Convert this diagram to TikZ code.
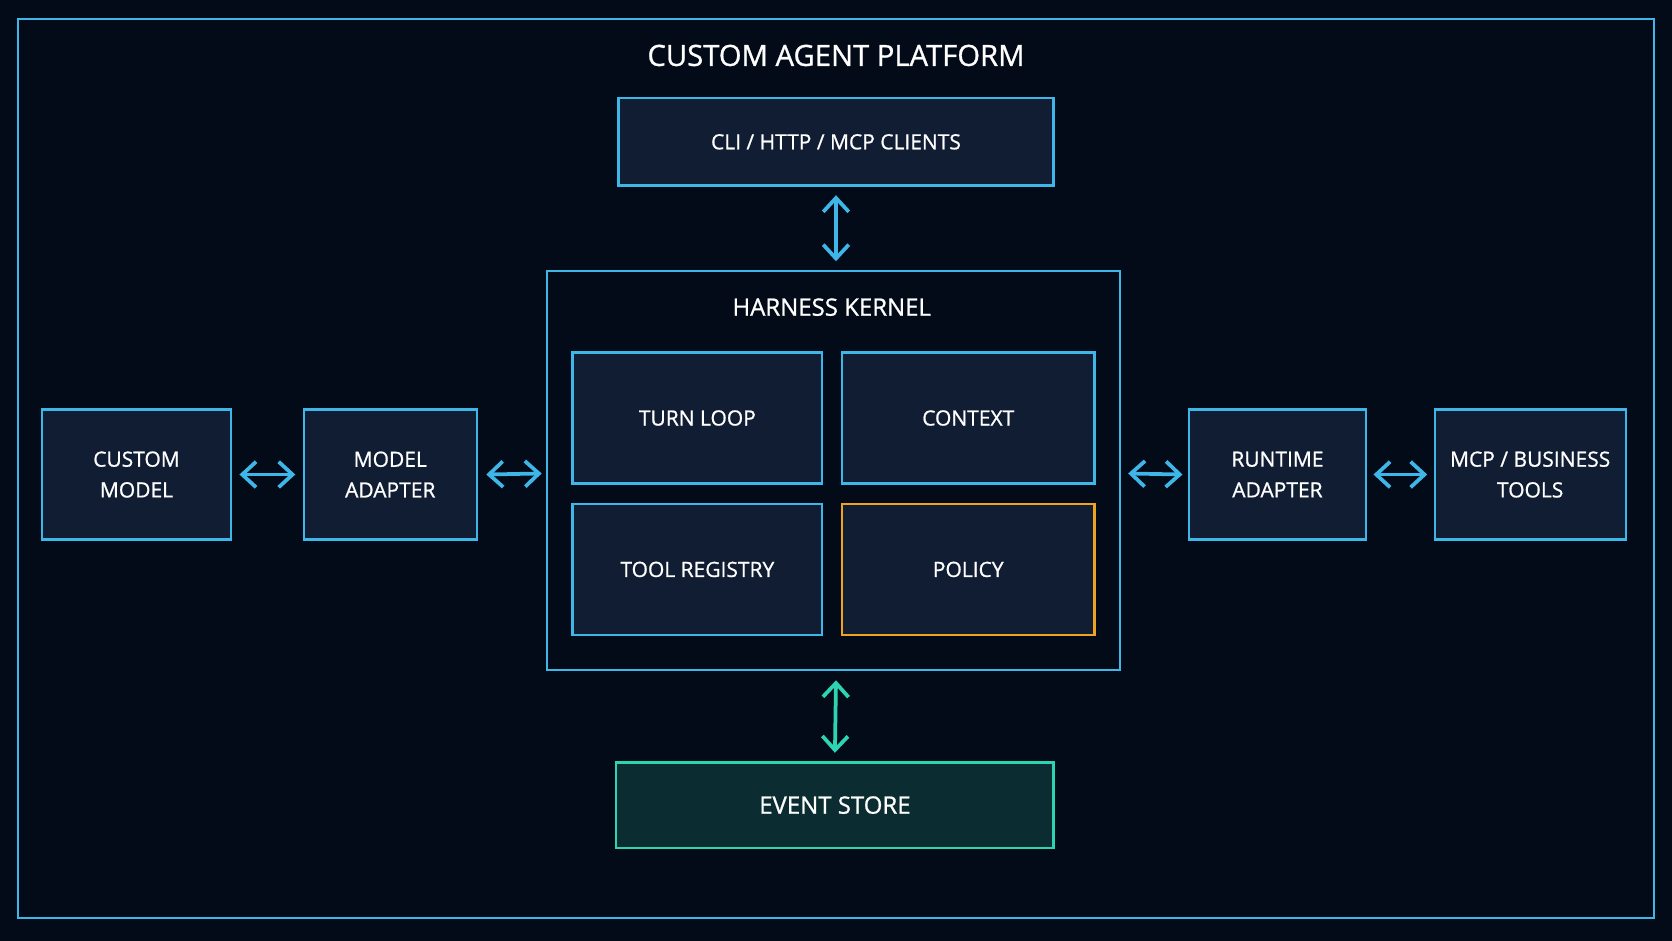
\documentclass[tikz,border=0pt]{standalone}
\usepackage{fontspec}
\setmainfont{Open Sans}
\newfontfamily\medfont{Open Sans}[FakeBold=0.9]
\usetikzlibrary{arrows.meta,positioning}
\definecolor{bgdark}{HTML}{030A18}
\definecolor{boxfill}{HTML}{111D32}
\definecolor{edgeblue}{HTML}{3FB6E8}
\definecolor{policyorange}{HTML}{F0A31E}
\definecolor{storeteal}{HTML}{2DD4B2}
\definecolor{storefill}{HTML}{0B2D31}
\tikzset{
  block/.style={draw=edgeblue, line width=0.6pt, fill=boxfill, text=white, align=center,
    font=\medfont\fontsize{5.6}{8.2}\selectfont},
  link/.style={{Straight Barb[length=1.3mm,width=2.4mm,line width=1pt]}-{Straight Barb[length=1.3mm,width=2.4mm,line width=1pt]}, line width=1pt, edgeblue}
}
\begin{document}
\begin{tikzpicture}[x=0.1mm,y=-0.1mm]
\fill[bgdark] (0,0) rectangle (1568,882);
\useasboundingbox (0,0) rectangle (1568,882);
% Platform frame
\draw[edgeblue, line width=0.6pt] (17,18) rectangle (1551,861);
\node[text=white, font=\medfont\fontsize{7.8}{10}\selectfont] (title) at (784,52) {CUSTOM AGENT PLATFORM};

% Clients on top
\node[block, minimum width=40.8mm, minimum height=8.2mm] (clients) at (784,133) {CLI / HTTP / MCP CLIENTS};

% Harness kernel
\draw[edgeblue, line width=0.6pt] (513,254) rectangle (1050,628);
\coordinate (kerneltop) at (784,254);
\coordinate (kernelbot) at (784,628);
\coordinate (kernelleft) at (513,444);
\coordinate (kernelright) at (1050,444);
\node[text=white, font=\medfont\fontsize{6.4}{8}\selectfont] (kernel) at (780,288) {HARNESS KERNEL};
\node[block, minimum width=23.4mm, minimum height=12.3mm] (turnloop) at (654,392) {TURN LOOP};
\node[block, minimum width=23.7mm, minimum height=12.3mm] (context) at (908,392) {CONTEXT};
\node[block, minimum width=23.4mm, minimum height=12.3mm] (registry) at (654,534) {TOOL REGISTRY};
\node[block, draw=policyorange, minimum width=23.7mm, minimum height=12.3mm] (policy) at (908,534) {POLICY};

% Left side
\node[block, minimum width=17.7mm, minimum height=12.2mm] (model) at (128,445) {CUSTOM\\MODEL};
\node[block, minimum width=16.2mm, minimum height=12.2mm] (madapter) at (366,445) {MODEL\\ADAPTER};

% Right side
\node[block, minimum width=16.6mm, minimum height=12.2mm] (radapter) at (1198,445) {RUNTIME\\ADAPTER};
\node[block, minimum width=17.9mm, minimum height=12.2mm] (tools) at (1435,445) {MCP / BUSINESS\\TOOLS};

% Event store
\node[block, draw=storeteal, fill=storefill, minimum width=41mm, minimum height=8mm,
  font=\medfont\fontsize{6.4}{8}\selectfont] (store) at (783,755) {EVENT STORE};

% Connectors
\draw[link] ([yshift=-0.8mm]clients.south) -- ([yshift=0.9mm]kerneltop);
\draw[link] ([xshift=0.7mm]model.east) -- ([xshift=-0.7mm]madapter.west);
\draw[link] ([xshift=0.8mm]madapter.east) -- ([xshift=-0.5mm]kernelleft);
\draw[link] ([xshift=0.8mm]kernelright) -- ([xshift=-0.5mm]radapter.west);
\draw[link] ([xshift=0.6mm]radapter.east) -- ([xshift=-0.6mm]tools.west);
\draw[link, storeteal] ([yshift=-1mm]kernelbot) -- ([yshift=0.8mm]store.north);
\end{tikzpicture}
\end{document}
